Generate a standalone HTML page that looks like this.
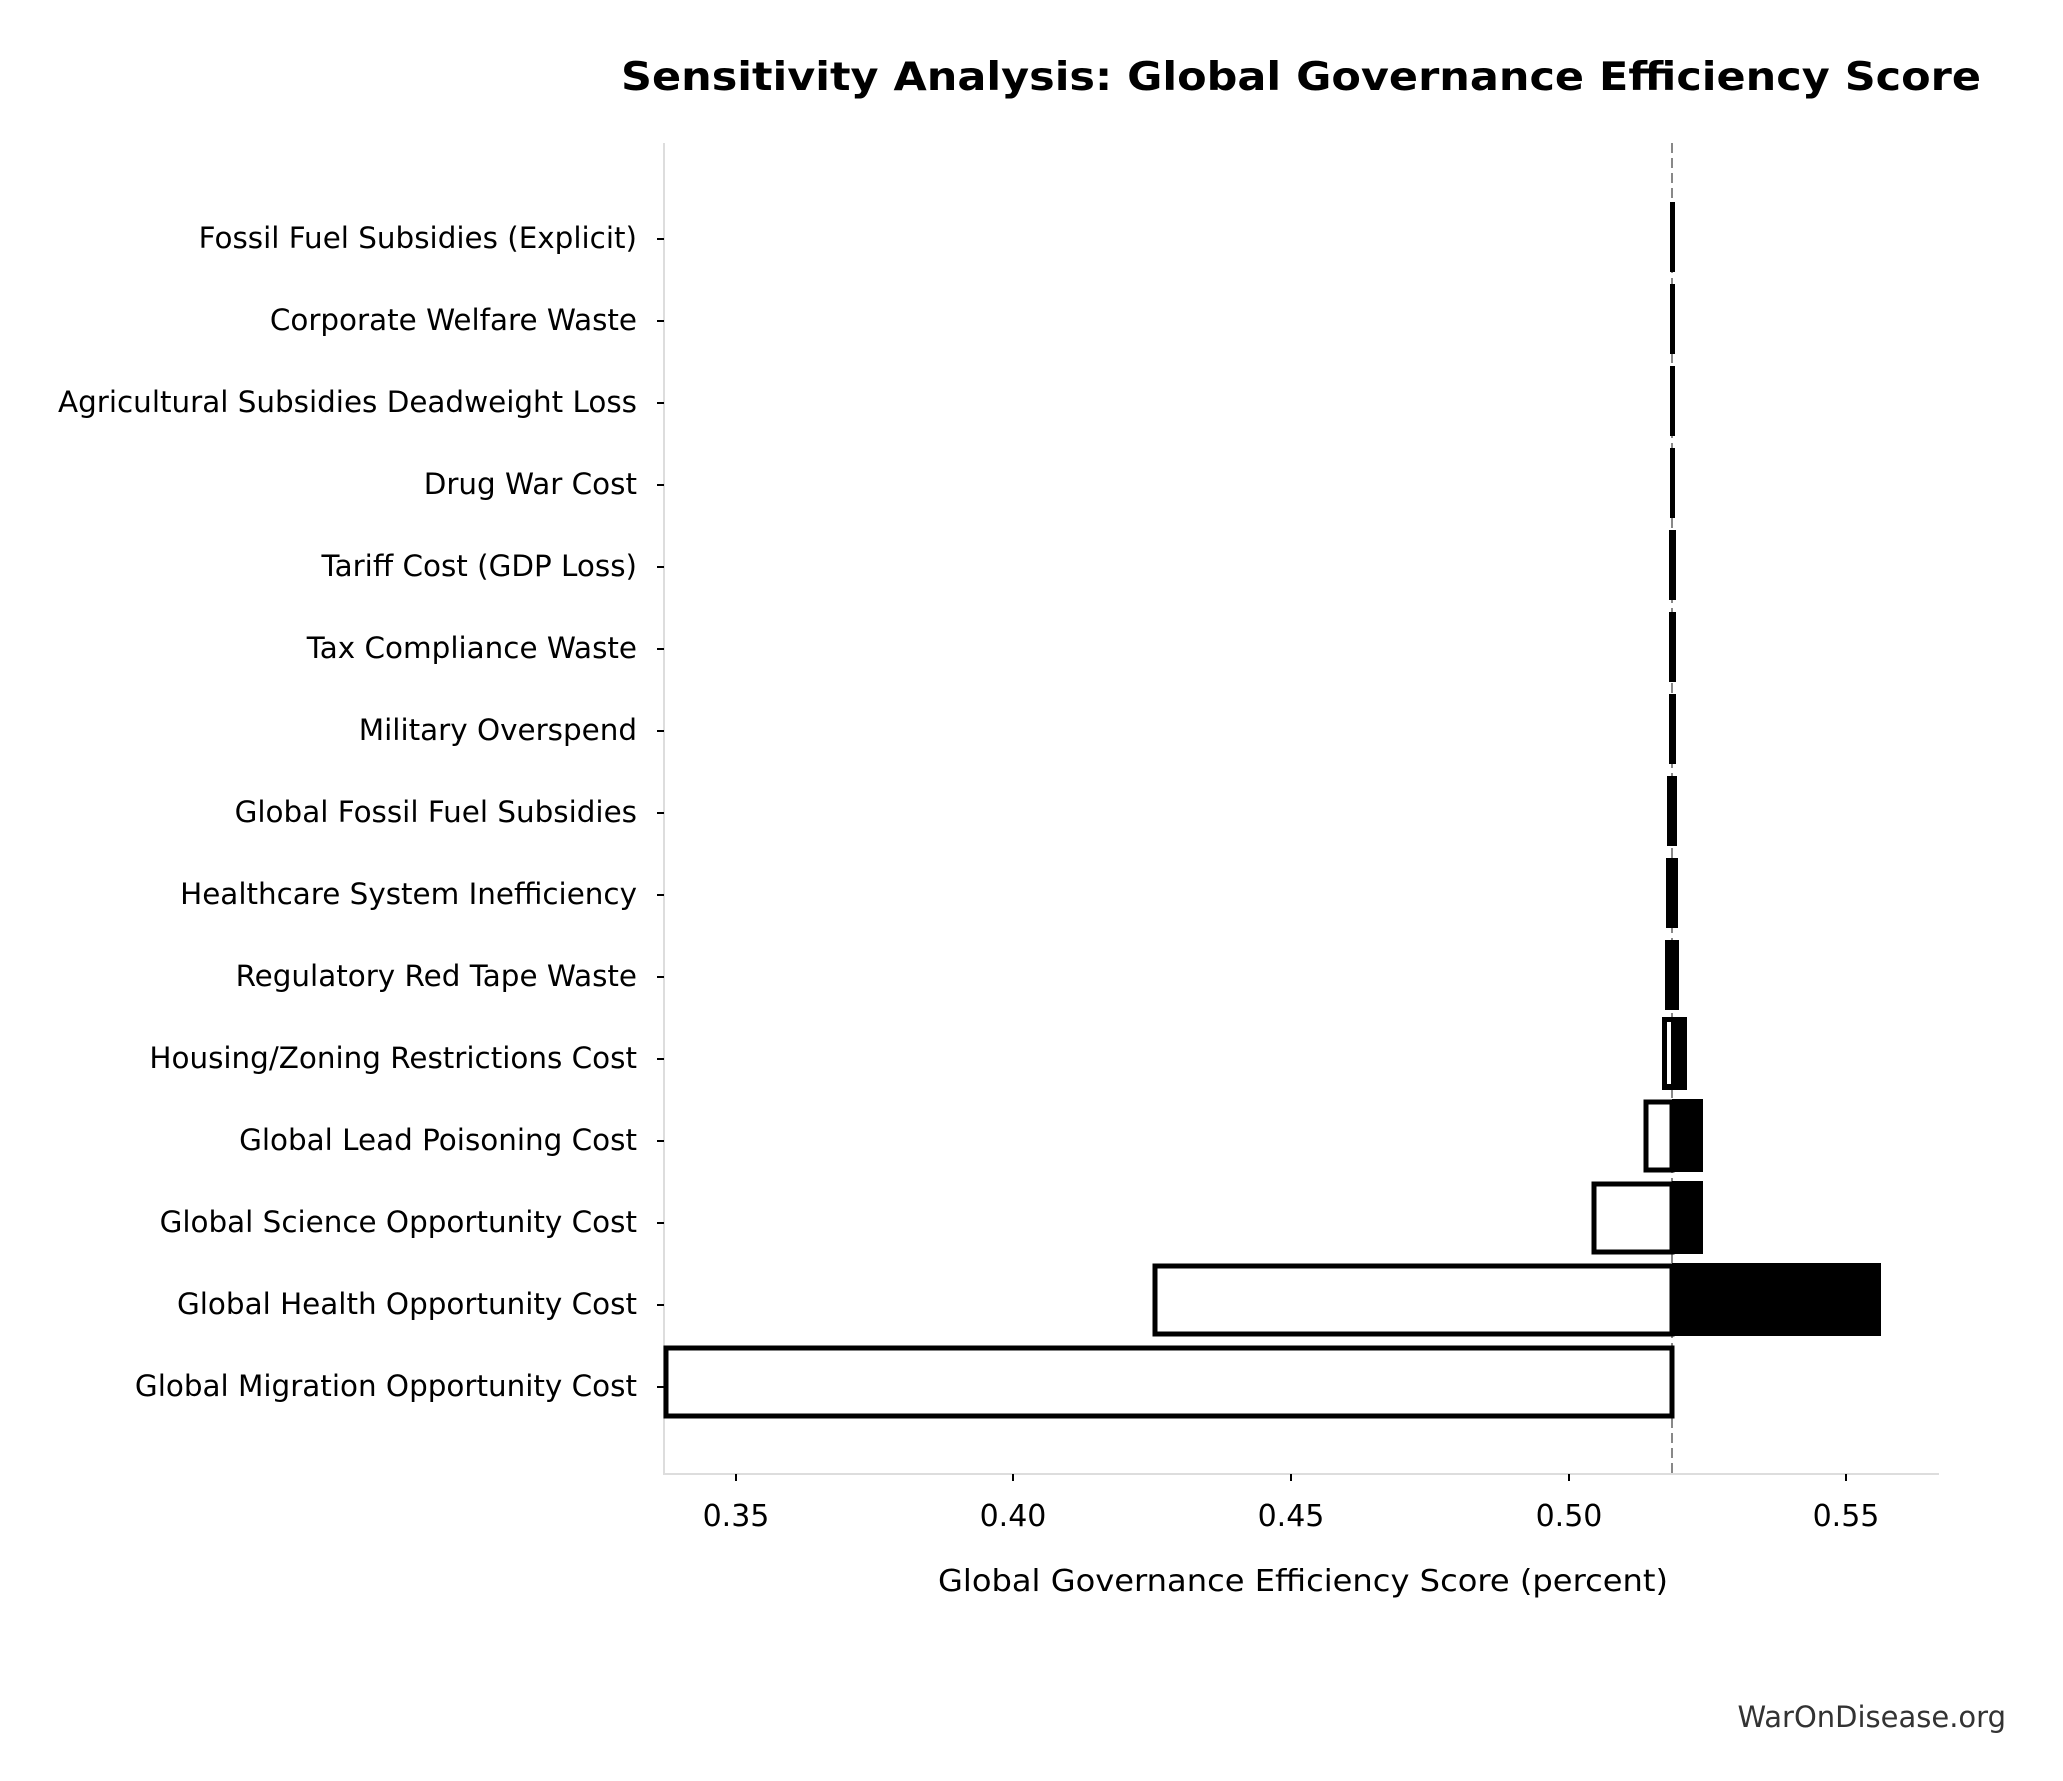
<!DOCTYPE html>
<html><head><meta charset="utf-8"><style>
html,body{margin:0;padding:0;background:#fff;}
svg{display:block;}
text{font-family:"DejaVu Sans","Liberation Sans",sans-serif;fill:#000;}
</style></head><body>
<svg width="2063" height="1781" viewBox="0 0 2063 1781" xmlns="http://www.w3.org/2000/svg">
<rect width="2063" height="1781" fill="#fff"/>
<text x="1301" y="90" font-size="39" font-weight="bold" text-anchor="middle" textLength="1360" lengthAdjust="spacingAndGlyphs">Sensitivity Analysis: Global Governance Efficiency Score</text>

<line x1="664" y1="143" x2="664" y2="1474" stroke="#dddddd" stroke-width="2"/>
<line x1="663" y1="1474" x2="1939" y2="1474" stroke="#dddddd" stroke-width="2"/>

<line x1="1672" y1="143" x2="1672" y2="1474" stroke="#888" stroke-width="2" stroke-dasharray="10,5"/>

<g>
<rect x="666" y="1348" width="1006" height="68" fill="#fff" stroke="#000" stroke-width="5"/>
<rect x="1155" y="1266" width="517" height="68" fill="#fff" stroke="#000" stroke-width="5"/>
<rect x="1672" y="1263" width="209" height="73" fill="#000"/>
<rect x="1594" y="1184" width="78" height="68" fill="#fff" stroke="#000" stroke-width="5"/>
<rect x="1672" y="1181" width="31" height="73" fill="#000"/>
<rect x="1646" y="1102" width="26" height="68" fill="#fff" stroke="#000" stroke-width="5"/>
<rect x="1672" y="1099" width="31" height="73" fill="#000"/>
<rect x="1662" y="1017" width="25" height="73" fill="#000"/>
<rect x="1667" y="1022" width="4" height="62" fill="#fff"/>
<rect x="1665" y="940" width="14" height="70" fill="#000"/>
<rect x="1666" y="858" width="12" height="70" fill="#000"/>
<rect x="1667" y="776" width="10" height="70" fill="#000"/>
<rect x="1669" y="694" width="7" height="70" fill="#000"/>
<rect x="1669" y="612" width="7" height="70" fill="#000"/>
<rect x="1669" y="530" width="7" height="70" fill="#000"/>
<rect x="1670" y="448" width="5" height="70" fill="#000"/>
<rect x="1670" y="366" width="5" height="70" fill="#000"/>
<rect x="1670" y="284" width="5" height="70" fill="#000"/>
<rect x="1670" y="202" width="5" height="70" fill="#000"/>
</g>

<g stroke="#000" stroke-width="2">
<line x1="657" y1="239" x2="664" y2="239"/>
<line x1="657" y1="321" x2="664" y2="321"/>
<line x1="657" y1="403" x2="664" y2="403"/>
<line x1="657" y1="485" x2="664" y2="485"/>
<line x1="657" y1="567" x2="664" y2="567"/>
<line x1="657" y1="649" x2="664" y2="649"/>
<line x1="657" y1="731" x2="664" y2="731"/>
<line x1="657" y1="813" x2="664" y2="813"/>
<line x1="657" y1="895" x2="664" y2="895"/>
<line x1="657" y1="977" x2="664" y2="977"/>
<line x1="657" y1="1059" x2="664" y2="1059"/>
<line x1="657" y1="1141" x2="664" y2="1141"/>
<line x1="657" y1="1223" x2="664" y2="1223"/>
<line x1="657" y1="1305" x2="664" y2="1305"/>
<line x1="657" y1="1387" x2="664" y2="1387"/>
</g>
<g font-size="29.4" text-anchor="end">
<text x="637" y="248">Fossil Fuel Subsidies (Explicit)</text>
<text x="637" y="330">Corporate Welfare Waste</text>
<text x="637" y="412">Agricultural Subsidies Deadweight Loss</text>
<text x="637" y="494">Drug War Cost</text>
<text x="637" y="576">Tariff Cost (GDP Loss)</text>
<text x="637" y="658">Tax Compliance Waste</text>
<text x="637" y="740">Military Overspend</text>
<text x="637" y="822">Global Fossil Fuel Subsidies</text>
<text x="637" y="904">Healthcare System Inefficiency</text>
<text x="637" y="986">Regulatory Red Tape Waste</text>
<text x="637" y="1068">Housing/Zoning Restrictions Cost</text>
<text x="637" y="1150">Global Lead Poisoning Cost</text>
<text x="637" y="1232">Global Science Opportunity Cost</text>
<text x="637" y="1314">Global Health Opportunity Cost</text>
<text x="637" y="1396">Global Migration Opportunity Cost</text>
</g>

<g stroke="#000" stroke-width="2">
<line x1="736" y1="1474" x2="736" y2="1481"/>
<line x1="1013" y1="1474" x2="1013" y2="1481"/>
<line x1="1291" y1="1474" x2="1291" y2="1481"/>
<line x1="1569" y1="1474" x2="1569" y2="1481"/>
<line x1="1846" y1="1474" x2="1846" y2="1481"/>
</g>
<g font-size="30" text-anchor="middle">
<text x="736" y="1526">0.35</text>
<text x="1013" y="1526">0.40</text>
<text x="1291" y="1526">0.45</text>
<text x="1569" y="1526">0.50</text>
<text x="1846" y="1526">0.55</text>
</g>
<text x="1303" y="1591" font-size="30" text-anchor="middle" textLength="730" lengthAdjust="spacingAndGlyphs">Global Governance Efficiency Score (percent)</text>
<text x="2006" y="1727" font-size="29" text-anchor="end" style="fill:#333">WarOnDisease.org</text>
</svg>
</body></html>
